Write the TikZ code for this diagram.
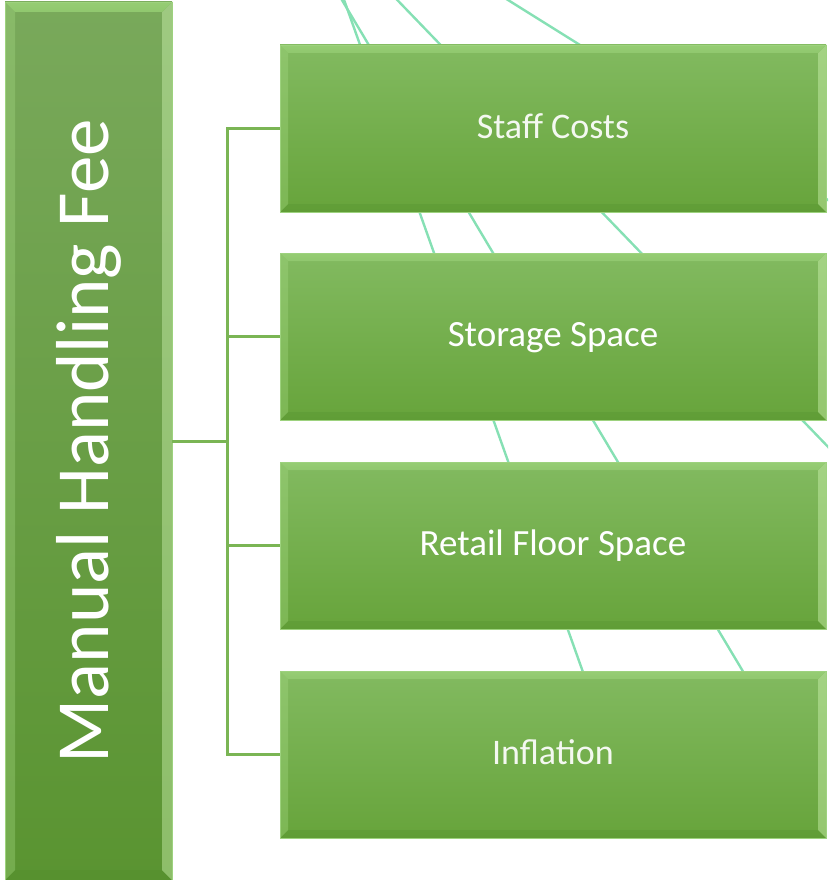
\documentclass[tikz,border=0pt]{standalone}
\usepackage{fontspec}
\setmainfont{Carlito}
\usetikzlibrary{calc}
\definecolor{boxtop}{HTML}{82BA60}
\definecolor{boxbot}{HTML}{67A43B}
\definecolor{bartop}{HTML}{79A95B}
\definecolor{barbot}{HTML}{5A9431}
\definecolor{bevhi}{HTML}{DCF8BE}
\definecolor{bevedge}{HTML}{96CD74}
\definecolor{bevleft}{HTML}{A6DA84}
\definecolor{bevright}{HTML}{CDF2B0}
\definecolor{bevbot}{HTML}{4F8A2A}
\definecolor{connc}{HTML}{7AB554}
\definecolor{bgline}{HTML}{86E0B4}
\definecolor{outl}{HTML}{9DD27E}
\tikzset{
  bevel/.style={path picture={
    \coordinate (a1) at (path picture bounding box.north west);
    \coordinate (a2) at (path picture bounding box.north east);
    \coordinate (a3) at (path picture bounding box.south east);
    \coordinate (a4) at (path picture bounding box.south west);
    \coordinate (b1) at ($(a1)+(#1,-#1)$);
    \coordinate (b2) at ($(a2)+(-#1,-#1)$);
    \coordinate (b3) at ($(a3)+(-#1,#1)$);
    \coordinate (b4) at ($(a4)+(#1,#1)$);
    \fill[bevbot, fill opacity=0.25] (a4) -- (b4) -- (b3) -- (a3) -- cycle;
    \fill[bevleft, fill opacity=0.35] (a1) -- (b1) -- (b4) -- (a4) -- cycle;
    \fill[bevright, fill opacity=0.45] (a2) -- (b2) -- (b3) -- (a3) -- cycle;
    \shade[top color=bevedge, middle color=bevhi, bottom color=bevedge!70!boxtop] (a1) -- (a2) -- (b2) -- (b1) -- cycle;
  }},
  catbox/.style={rectangle, inner sep=0pt, outer sep=0pt,
    minimum width=546pt, minimum height=167pt,
    top color=boxtop, bottom color=boxbot, draw=outl, line width=0.6pt,
    bevel=8pt},
  mainbar/.style={rectangle, inner sep=0pt, outer sep=0pt,
    minimum width=167pt, minimum height=878pt,
    top color=bartop, bottom color=barbot, draw=outl, line width=0.6pt,
    bevel=10pt},
  boxtext/.style={text=white, font=\fontsize{37}{40}\selectfont,
    text height=28pt, text depth=8pt, inner sep=0pt},
  lighttext/.style={boxtext, text opacity=0.92, font=\fontsize{36}{40}\selectfont},
  conn/.style={draw=connc, line width=3pt},
  bgl/.style={draw=bgline, line width=2.4pt}
}
\begin{document}
\begin{tikzpicture}[x=1pt, y=-1pt]
\useasboundingbox (0,0) rectangle (828,880);
\clip (0,0) rectangle (828,880);
% background lines
\coordinate (la0) at (337,-20);
\coordinate (la1) at (600,720);
\coordinate (lb0) at (330,-20);
\coordinate (lb1) at (772,720);
\coordinate (lc0) at (378,-20);
\coordinate (lc1) at (860,480);
\coordinate (ld0) at (476,-20);
\coordinate (ld1) at (860,220);
\draw[bgl] (la0) -- (la1);
\draw[bgl] (lb0) -- (lb1);
\draw[bgl] (lc0) -- (lc1);
\draw[bgl] (ld0) -- (ld1);
% main bar
\node[mainbar] (bar) at (88.5,441) {};
\node[text=white, font=\fontsize{75}{80}\selectfont, rotate=90, inner sep=0pt] (barlabel) at (88.5,441) {Manual Handling Fee};
% category boxes
\node[catbox] (staff) at (553,128.5) {};
\node[lighttext] (stafft) at (staff.center) {Staff Costs};
\node[catbox] (storage) at (553,336.5) {};
\node[boxtext] (storaget) at (storage.center) {Storage Space};
\node[catbox] (retail) at (553,545.5) {};
\node[boxtext] (retailt) at (retail.center) {Retail Floor Space};
\node[catbox] (infl) at (553,754.5) {};
\node[lighttext] (inflt) at (infl.center) {Inflation};
% connectors
\coordinate (j) at (227,441);
\draw[conn] (bar.east) -- (j);
\draw[conn] (j) |- (staff.west);
\draw[conn] (j) |- (storage.west);
\draw[conn] (j) |- (retail.west);
\draw[conn] (j) |- (infl.west);
\end{tikzpicture}
\end{document}
